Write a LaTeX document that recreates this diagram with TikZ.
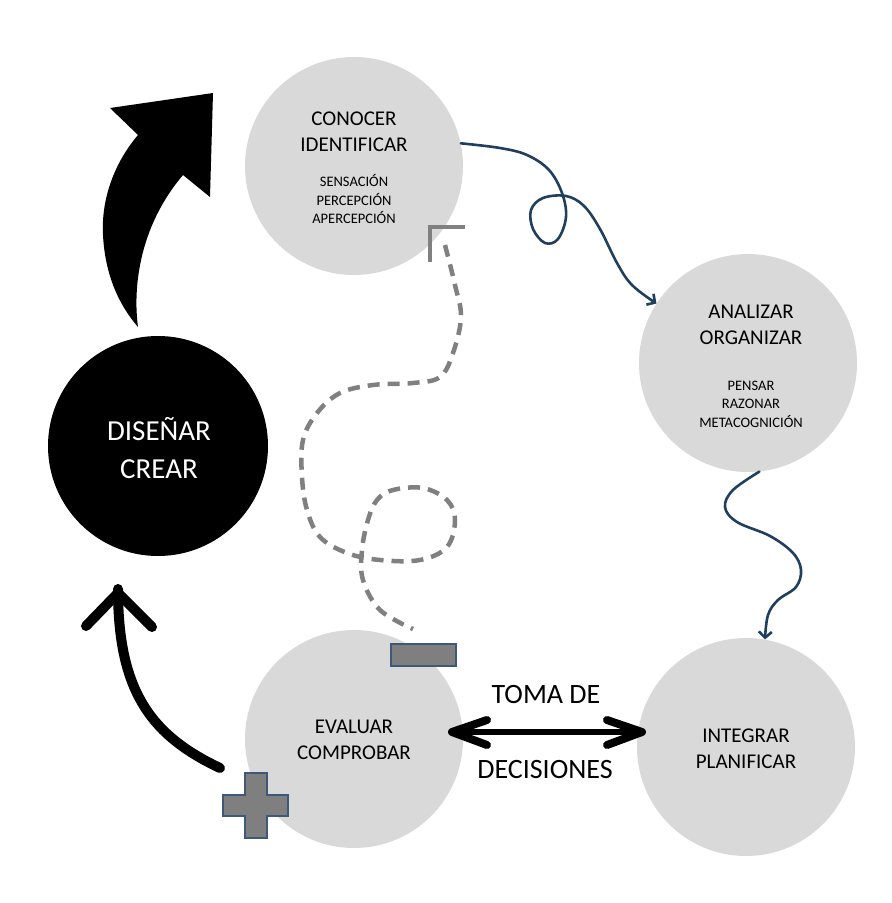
\documentclass[tikz,border=0pt]{standalone}
\usepackage{fontspec}
\setmainfont{Carlito}
\usetikzlibrary{arrows.meta}
\definecolor{bubblegray}{HTML}{D9D9D9}
\definecolor{navyline}{HTML}{203F5F}
\definecolor{dashgray}{HTML}{808080}
\definecolor{signfill}{HTML}{7F7F7F}
\definecolor{signedge}{HTML}{3E5877}
\begin{document}
\begin{tikzpicture}[x=1pt,y=-1pt,
  bubble/.style={circle, fill=bubblegray, minimum size=218pt, inner sep=0pt},
  bigtxt/.style={font=\fontsize{21}{26}\selectfont, align=center, inner sep=0pt},
  smalltxt/.style={font=\fontsize{14.5}{18.5}\selectfont, align=center, inner sep=0pt},
  wavy/.style={draw=navyline, line width=2.6pt, line cap=round, line join=round,
    -{Straight Barb[length=6pt, width=13pt, line width=2.6pt]}},
  trail/.style={draw=dashgray, line width=4.5pt, dash pattern=on 12pt off 8pt},
  sign/.style={fill=signfill, draw=signedge, line width=1.2pt}
]
\useasboundingbox (0,0) rectangle (892,903);
\fill[white] (0,0) rectangle (892,903);

% the five stages
\node[bubble] (con) at (354,166) {};
\node[bubble] (ana) at (748,363) {};
\node[bubble] (int) at (746,747) {};
\node[bubble] (eva) at (354,739) {};
\node[circle, fill=black, minimum size=220pt, inner sep=0pt] (dis) at (158,446) {};

% stage labels
\node[bigtxt] (conT) at (354,132) {CONOCER\\IDENTIFICAR};
\node[smalltxt] (conS) at (354,199) {SENSACIÓN\\PERCEPCIÓN\\APERCEPCIÓN};
\node[bigtxt] (anaT) at (751,325) {ANALIZAR\\ORGANIZAR};
\node[smalltxt] (anaS) at (751,404) {PENSAR\\RAZONAR\\METACOGNICIÓN};
\node[bigtxt] (intT) at (746,749) {INTEGRAR\\PLANIFICAR};
\node[bigtxt] (evaT) at (354,740) {EVALUAR\\COMPROBAR};
\node[font=\fontsize{29}{38}\selectfont, align=center, text=white, inner sep=0pt] (disT) at (159,448) {DISEÑAR\\CREAR};

% decision arrow and its caption
\node[font=\fontsize{28}{34}\selectfont, inner sep=0pt] (toma) at (546,695) {TOMA DE};
\node[font=\fontsize{28}{34}\selectfont, inner sep=0pt] (deci) at (545,769) {DECISIONES};
\coordinate (dl) at (452,732);
\coordinate (dr) at (642,732);
\draw[line width=6pt] ([xshift=6pt]dl) -- ([xshift=-6pt]dr);
\draw[line width=8pt, line cap=round, line join=round] (487,720) -- (dl) -- (487,745);
\draw[line width=8pt, line cap=round, line join=round] (607,720) -- (dr) -- (607,745);

% wavy links between stages
\draw[wavy] plot[smooth, tension=0.6] coordinates {(con.12) (500,148) (527,155) (549,170) (562,193) (566,217) (558,239) (545,243) (533,229) (531,210) (543,198) (566,196) (584,206) (600,229) (617,263) (632,285) (ana.147)};
\draw[wavy] plot[smooth, tension=0.6] coordinates {(ana.-84) (733,490) (725,507) (737,522) (770,536) (793,553) (801,570) (796,587) (778,600) (768,615) (int.80)};

% dashed return path with its corner mark and minus sign
\draw[draw=dashgray, line width=4pt] (465,227) -- (430,227) -- (430,262);
\draw[trail] plot[smooth, tension=0.6] coordinates {(445,245) (455,285) (461,317) (453,353) (440,377) (413,383) (373,385) (340,393) (317,413) (303,440) (302,477) (307,510) (320,537) (347,553) (380,560) (420,560) (447,547) (455,520) (447,500) (423,488) (393,490) (377,500) (368,520) (362,550) (363,580) (380,610) (413,629)};
\node[sign, minimum width=65pt, minimum height=22pt, inner sep=0pt] (minus) at (423.5,655) {};

% plus sign
\draw[sign] (245,773) -- (267,773) -- (267,795) -- (288,795) -- (288,816) -- (267,816) -- (267,838) -- (245,838) -- (245,816) -- (223,816) -- (223,795) -- (245,795) -- cycle;

% curved arrow from evaluation back to design
\coordinate (b0) at (220,768);
\coordinate (b1) at (118,593);
\draw[line width=10pt, line cap=round] (b0) .. controls (150,735) and (118,690) .. ([yshift=4pt]b1);
\draw[line width=10pt, line cap=round, line join=round] (86,626) -- (b1) -- (152,627);

% block arrow from design up to knowing
\fill (213,93) -- (110,108) -- (138,135)
  .. controls (115,162) and (101,198) .. (103,235)
  .. controls (105,275) and (119,305) .. (138,327)
  .. controls (133,290) and (138,228) .. (183,175)
  -- (210,197) -- cycle;
\end{tikzpicture}
\end{document}
